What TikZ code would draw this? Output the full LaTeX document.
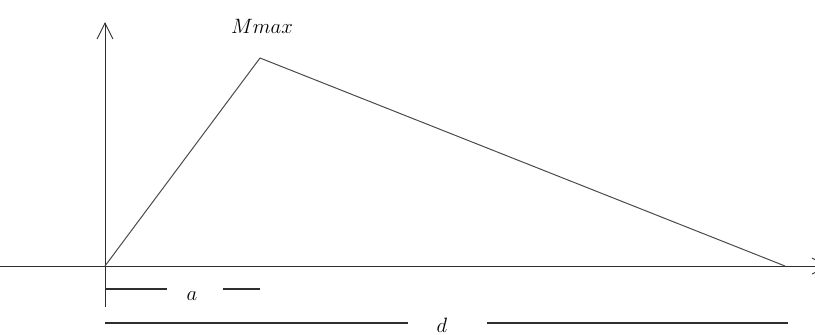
\documentclass[tikz,border=0pt]{standalone}
\usepackage{amsmath,amssymb}
\usepackage{xcolor}
\usepackage{tikz}
\usetikzlibrary{arrows.meta,positioning,calc}
\definecolor{cInk}{HTML}{2E2E2E}
\definecolor{cGray}{HTML}{4A4A4A}
\tikzset{
  axis/.style={line width=1pt,color=cInk,-{Straight Barb[length=16pt,width=16pt,line width=0.9pt]}},
  curve/.style={line width=1pt,color=cGray,line join=miter},
  dim/.style={line width=1.2pt,color=cInk},
  lbl/.style={font=\fontsize{22}{26}\selectfont,text=black,inner sep=0pt,anchor=base},
}
\begin{document}
\begin{tikzpicture}[x=1pt,y=-1pt]
    \useasboundingbox (0,0) rectangle (815,335);
    \clip (0,0) rectangle (815,335);
    % axes
    \coordinate (o) at (105,266);
    \coordinate (ybot) at (105,307);
    \coordinate (ytop) at (105,22);
    \coordinate (xl) at (0,266);
    \coordinate (xr) at (829,266);
    \draw[axis] (ybot) -- (ytop);
    \draw[axis] (xl) -- (xr);
    % moment diagram
    \coordinate (pk) at (260,58);
    \coordinate (e) at (785,266);
    \draw[curve] (o) -- (pk) -- (e);
    \node[lbl] (mmax) at (262,33) {$Mmax$};
    % dimension a
    \node[lbl] (la) at (192,300) {$a$};
    \coordinate (a0) at (105,289);
    \coordinate (a1) at (167,289);
    \coordinate (a2) at (223,289);
    \coordinate (a3) at (260,289);
    \draw[dim] (a0) -- (a1);
    \draw[dim] (a2) -- (a3);
    % dimension d
    \node[lbl] (ld) at (442,332) {$d$};
    \coordinate (d0) at (105,323);
    \coordinate (d1) at (408,323);
    \coordinate (d2) at (487,323);
    \coordinate (d3) at (788,323);
    \draw[dim] (d0) -- (d1);
    \draw[dim] (d2) -- (d3);
  \end{tikzpicture}
\end{document}
